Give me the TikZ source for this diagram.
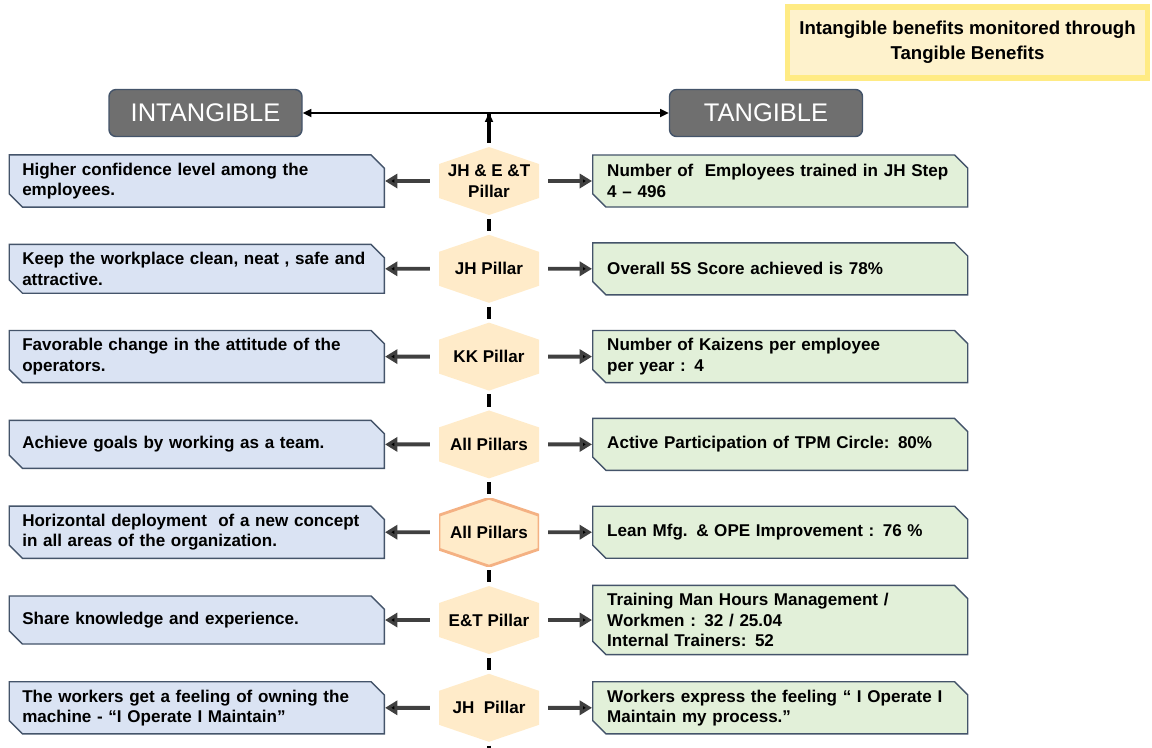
\documentclass[tikz,border=0pt]{standalone}
\usepackage{fontspec}
\setmainfont{Liberation Sans}
\usetikzlibrary{positioning,shapes.misc,arrows.meta}
\definecolor{boxline}{HTML}{44546A}
\definecolor{bluefill}{HTML}{DAE3F3}
\definecolor{greenfill}{HTML}{E2F0D9}
\definecolor{hexfill}{HTML}{FFEBC9}
\definecolor{hexedge}{HTML}{F4B183}
\definecolor{headfill}{HTML}{6F6F6F}
\definecolor{notefill}{HTML}{FEF2CC}
\definecolor{noteedge}{HTML}{FFEB84}
\definecolor{arrowgray}{HTML}{404040}
\newcommand{\bodyfont}{\fontsize{9.7}{11.6}\selectfont\bfseries}
\newcommand{\headfont}{\fontsize{14.5}{17}\selectfont}
\newcommand{\notefont}{\fontsize{10.6}{14}\selectfont\bfseries}
\tikzset{
  hexbody/.style={path picture={\path[#1] (path picture bounding box.north) -- ([yshift=-.34cm]path picture bounding box.north east) -- ([yshift=.34cm]path picture bounding box.south east) -- (path picture bounding box.south) -- ([yshift=.34cm]path picture bounding box.south west) -- ([yshift=-.34cm]path picture bounding box.north west) -- cycle;}},
  pillar/.style={minimum width=2cm,minimum height=1.36cm,inner sep=0pt,align=center,font=\bodyfont,hexbody={fill=hexfill}},
  pillaredge/.style={pillar,hexbody={fill=hexfill,draw=hexedge,line width=1.6pt}},
  snipbox/.style={chamfered rectangle,chamfered rectangle corners={north east,south west},chamfered rectangle xsep=4pt,draw=boxline,line width=.8pt,inner ysep=1pt,align=left,font=\bodyfont},
  leftbox/.style={snipbox,fill=bluefill,text width=6.98cm,inner xsep=.12cm,minimum height=.96cm},
  rightbox/.style={snipbox,fill=greenfill,text width=6.92cm,inner xsep=.15cm,minimum height=1.04cm},
  headbox/.style={rectangle,rounded corners=4pt,draw=boxline,line width=.8pt,fill=headfill,text=white,font=\headfont,minimum width=3.86cm,minimum height=.94cm},
  notebox/.style={rectangle,fill=notefill,draw=noteedge,line width=3pt,minimum width=7.2cm,minimum height=1.42cm,align=center,font=\notefont},
  outarrow/.style={draw=arrowgray,line width=2.2pt,-{Triangle[length=7pt,width=8pt]},shorten <=5pt},
  toparrow/.style={draw=black,line width=1.1pt,-{Triangle[length=5pt,width=4.5pt]}},
  trunk/.style={draw=black,line width=2.7pt,line cap=butt}
}
\begin{document}
\begin{tikzpicture}[node distance=1.756cm,on grid,auto]
      \useasboundingbox (0,0) rectangle (23.04,-14.94);
      \coordinate (top) at (9.78,-2.26);
      \node[headbox,left=5.67cm of top,anchor=center] (intang) {INTANGIBLE};
      \node[headbox,right=5.54cm of top,anchor=center] (tang) {TANGIBLE};
      \node[notebox] (note) at (19.35,-0.85) {Intangible benefits monitored through\\Tangible Benefits};
      \node[pillar,below=1.36cm of top,anchor=center] (p1) {JH \& E \&T\\Pillar};
      \node[pillar,below=of p1] (p2) {JH Pillar};
      \node[pillar,below=of p2] (p3) {KK Pillar};
      \node[pillar,below=of p3] (p4) {All Pillars};
      \node[pillaredge,below=of p4] (p5) {All Pillars};
      \node[pillar,below=of p5] (p6) {E\&T Pillar};
      \node[pillar,below=of p6] (p7) {JH~ Pillar};
      \coordinate[below=1cm of p7] (bot);
      \node[leftbox,left=2.08cm of p1,anchor=east] (i1) {Higher confidence level among the\\employees.};
      \node[leftbox,left=2.08cm of p2,anchor=east] (i2) {Keep the workplace clean, neat , safe and\\attractive.};
      \node[leftbox,left=2.08cm of p3,anchor=east] (i3) {Favorable change in the attitude of the\\operators.};
      \node[leftbox,left=2.08cm of p4,anchor=east] (i4) {Achieve goals by working as a team.};
      \node[leftbox,left=2.08cm of p5,anchor=east] (i5) {Horizontal deployment~ of a new concept\\in all areas of the organization.};
      \node[leftbox,left=2.08cm of p6,anchor=east] (i6) {Share knowledge and experience.};
      \node[leftbox,left=2.08cm of p7,anchor=east] (i7) {The workers get a feeling of owning the\\machine - “I Operate I Maintain”};
      \node[rightbox,right=2.06cm of p1,anchor=west] (t1) {Number of~ Employees trained in JH Step\\4 – 496};
      \node[rightbox,right=2.06cm of p2,anchor=west] (t2) {Overall 5S Score achieved is 78\%};
      \node[rightbox,right=2.06cm of p3,anchor=west] (t3) {Number of Kaizens per employee\\per year : 4};
      \node[rightbox,right=2.06cm of p4,anchor=west] (t4) {Active Participation of TPM Circle: 80\%};
      \node[rightbox,right=2.06cm of p5,anchor=west] (t5) {Lean Mfg. \& OPE Improvement : 76 \%};
      \node[rightbox,right=2.06cm of p6,anchor=west] (t6) {Training Man Hours Management /\\Workmen : 32 / 25.04\\Internal Trainers: 52};
      \node[rightbox,right=2.06cm of p7,anchor=west] (t7) {Workers express the feeling “ I Operate I\\Maintain my process.”};
      \path[trunk,shorten >=2pt]
      (top) edge (p1)
      ;
      \path[trunk,shorten <=2pt,shorten >=2pt]
      (p1) edge (p2)
      (p2) edge (p3)
      (p3) edge (p4)
      (p4) edge (p5)
      (p5) edge (p6)
      (p6) edge (p7)
      (p7) edge (bot)
      ;
      \path[toparrow]
      (top) edge (intang)
      (top) edge (tang)
      ;
      \path[outarrow]
      (p1) edge (i1)
      (p1) edge (t1)
      (p2) edge (i2)
      (p2) edge (t2)
      (p3) edge (i3)
      (p3) edge (t3)
      (p4) edge (i4)
      (p4) edge (t4)
      (p5) edge (i5)
      (p5) edge (t5)
      (p6) edge (i6)
      (p6) edge (t6)
      (p7) edge (i7)
      (p7) edge (t7)
      ;
    \end{tikzpicture}
\end{document}
